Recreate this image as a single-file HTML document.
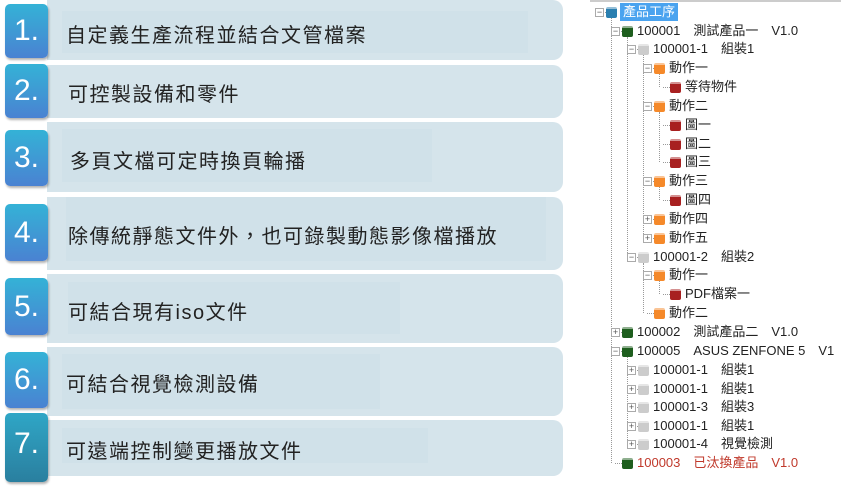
<!DOCTYPE html>
<html><head><meta charset="utf-8"><style>
body{margin:0;width:841px;height:487px;background:#fff;position:relative;overflow:hidden;font-family:"Liberation Sans","Noto Sans CJK TC",sans-serif}
.band{position:absolute;left:47px;width:516px;background:#d5e4eb;border-radius:0 10px 10px 0}
.inner{position:absolute;background:#d0e1e9}
.txt{position:absolute;font-size:20px;letter-spacing:1.5px;color:#222;white-space:nowrap}
.badge{position:absolute;left:5px;width:43px;border-radius:5px;background:linear-gradient(#34b2d6,#4a82d2);box-shadow:1px 2px 2px rgba(0,0,0,.3);color:#fff;font-size:30px;text-align:center}
.t{position:absolute;font-size:13px;color:#222;white-space:nowrap;line-height:16px}
.ic{position:absolute;width:11px;height:11px;border-radius:2px}
.bx{position:absolute;width:7px;height:7px;border:1px solid #aaa;background:#fff;font-size:9px;line-height:7px;text-align:center;color:#555}
.vl{position:absolute;border-left:1px dotted #999;width:0}
.hl{position:absolute;border-top:1px dotted #999;height:0}
</style></head><body>
<div class="band" style="top:0;height:60px"></div><div class="inner" style="left:62px;top:11px;width:466px;height:42px"></div>
<div class="band" style="top:65px;height:53px"></div>
<div class="band" style="top:122px;height:70px"></div><div class="inner" style="left:62px;top:129px;width:370px;height:53px"></div>
<div class="band" style="top:197px;height:73px"></div><div class="inner" style="left:66px;top:197px;width:480px;height:64px"></div>
<div class="band" style="top:274px;height:69px"></div><div class="inner" style="left:68px;top:282px;width:332px;height:52px"></div>
<div class="band" style="top:347px;height:69px"></div><div class="inner" style="left:62px;top:354px;width:318px;height:55px"></div>
<div class="band" style="top:420px;height:56px"></div><div class="inner" style="left:62px;top:428px;width:366px;height:35px"></div>
<div class="txt" style="left:66px;top:19px">自定義生產流程並結合文管檔案</div>
<div class="txt" style="left:68px;top:78px">可控製設備和零件</div>
<div class="txt" style="left:70px;top:145px">多頁文檔可定時換頁輪播</div>
<div class="txt" style="left:68px;top:220px">除傳統靜態文件外，也可錄製動態影像檔播放</div>
<div class="txt" style="left:68px;top:296px">可結合現有iso文件</div>
<div class="txt" style="left:66px;top:368px">可結合視覺檢測設備</div>
<div class="txt" style="left:66px;top:435px">可遠端控制變更播放文件</div>
<div class="badge" style="top:4px;height:54px;line-height:54px">1.</div>
<div class="badge" style="top:64px;height:54px;line-height:54px">2.</div>
<div class="badge" style="top:130px;height:56px;line-height:56px">3.</div>
<div class="badge" style="top:204px;height:57px;line-height:57px">4.</div>
<div class="badge" style="top:278px;height:57px;line-height:57px">5.</div>
<div class="badge" style="top:352px;height:56px;line-height:56px">6.</div>
<div class="badge" style="top:413px;height:69px;line-height:62px;background:linear-gradient(#2fa6c6,#2a7f9f)">7.</div>

<div style="position:absolute;left:590px;top:0;width:251px;height:2px;background:#ccc"></div>
<div class="vl" style="left:611px;top:18px;height:445px"></div>
<div class="vl" style="left:627px;top:37px;height:220px"></div>
<div class="vl" style="left:627px;top:357px;height:87px"></div>
<div class="vl" style="left:643px;top:55px;height:183px"></div>
<div class="vl" style="left:643px;top:263px;height:50px"></div>
<div class="vl" style="left:659px;top:74px;height:13px"></div>
<div class="vl" style="left:659px;top:112px;height:50px"></div>
<div class="vl" style="left:659px;top:187px;height:13px"></div>
<div class="vl" style="left:659px;top:281px;height:13px"></div>
<div id="tree"></div>
<script>
var rows=[[0,12,"產品工序","#2a7fb0","-"],[1,31,"100001　測試產品一　V1.0","#1e5e1e","-"],[2,49,"100001-1　組裝1","#ccc","-"],
[3,68,"動作一","#f5892a","-"],[4,87,"等待物件","#a82020",""],[3,106,"動作二","#f5892a","-"],[4,125,"圖一","#a82020",""],[4,144,"圖二","#a82020",""],[4,162,"圖三","#a82020",""],
[3,181,"動作三","#f5892a","-"],[4,200,"圖四","#a82020",""],[3,219,"動作四","#f5892a","+"],[3,238,"動作五","#f5892a","+"],
[2,257,"100001-2　組裝2","#ccc","-"],[3,275,"動作一","#f5892a","-"],[4,294,"PDF檔案一","#a82020",""],[3,313,"動作二","#f5892a",""],
[1,332,"100002　測試產品二　V1.0","#1e5e1e","+"],[1,351,"100005　ASUS ZENFONE 5　V1","#1e5e1e","-"],
[2,370,"100001-1　組裝1","#ccc","+"],[2,389,"100001-1　組裝1","#ccc","+"],[2,407,"100001-3　組裝3","#ccc","+"],[2,426,"100001-1　組裝1","#ccc","+"],[2,444,"100001-4　視覺檢測","#ccc","+"],
[1,463,"100003　已汰換產品　V1.0","#1e5e1e",""]];
var h="";
rows.forEach(function(r){var l=r[0],y=r[1],bx=595+16*l,ic=606+16*l,tx=621+16*l;
h+='<div class="hl" style="left:'+(bx+4)+'px;top:'+y+'px;width:'+(ic-bx-4)+'px"></div>';
if(r[4])h+='<div class="bx" style="left:'+bx+'px;top:'+(y-4)+'px">'+(r[4]=="-"?"−":"+")+'</div>';
h+='<div class="ic" style="left:'+ic+'px;top:'+(y-5)+'px;background:'+r[3]+';border-top:2px solid rgba(255,255,255,.5);height:9px"></div>';
if(l==0)h+='<div class="t" style="left:620px;top:'+(y-9)+'px;background:#4aa3ef;color:#fff;padding:1px 3px">'+r[2]+'</div>';
else h+='<div class="t" style="left:'+tx+'px;top:'+(y-8)+'px;'+(y==463?'color:#c0392b':'')+'">'+r[2]+'</div>';});
document.getElementById("tree").innerHTML=h;
</script>
</body></html>
